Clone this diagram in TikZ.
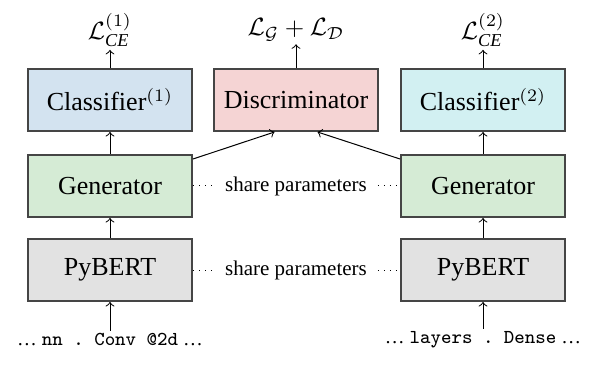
\documentclass[tikz,border=0pt]{standalone}
\usepackage{fontspec}
\setmainfont{Liberation Serif}
\usepackage{tikz}

\definecolor{clsblue}{HTML}{D3E3F0}
\definecolor{discpink}{HTML}{F5D4D4}
\definecolor{clscyan}{HTML}{D2F0F2}
\definecolor{gengreen}{HTML}{D5EBD5}
\definecolor{bertgray}{HTML}{E2E2E2}
\definecolor{boxline}{HTML}{454545}

\begin{document}
\frenchspacing
\begin{tikzpicture}[auto, x=0.4pt, y=-0.4pt,
    blk/.style={draw=boxline, line width=0.8pt, minimum width=65.6pt,
      minimum height=24.8pt, inner sep=0pt, font=\fontsize{10.4}{12}\selectfont},
    lbl/.style={inner sep=1pt, font=\fontsize{10.4}{12}\selectfont},
    share/.style={inner sep=4.2pt, font=\fontsize{8.4}{10}\selectfont},
    code/.style={inner sep=1pt, font=\fontsize{7.9}{9}\selectfont},
    arr/.style={->, line width=0.4pt}]
    \useasboundingbox (0,0) rectangle (605,365);
    \node [blk, fill=clsblue]  (c1) at (110, 100) {Classifier$^{(1)}$};
    \node [blk, fill=discpink] (d)  at (296, 100) {Discriminator};
    \node [blk, fill=clscyan]  (c2) at (483, 100) {Classifier$^{(2)}$};
    \node [blk, fill=gengreen] (g1) at (110, 186) {Generator};
    \node [blk, fill=gengreen] (g2) at (483, 186) {Generator};
    \node [blk, fill=bertgray] (b1) at (110, 270) {PyBERT};
    \node [blk, fill=bertgray] (b2) at (483, 270) {PyBERT};
    \node [lbl] (l1) at (110, 30) {$\mathcal{L}_{\mathit{CE}}^{(1)}$};
    \node [lbl] (ld) at (296, 30) {$\mathcal{L}_{\mathcal{G}} + \mathcal{L}_{\mathcal{D}}$};
    \node [lbl] (l2) at (483, 30) {$\mathcal{L}_{\mathit{CE}}^{(2)}$};
    \node [share] (s1) at (296, 186) {share parameters};
    \node [share] (s2) at (296, 270) {share parameters};
    \node [code] (x1) at (110, 340) {\ldots\ \texttt{nn . Conv @2d} \ldots};
    \node [code] (x2) at (483, 340) {\ldots\ \texttt{layers . Dense} \ldots};
    \draw [arr] (c1) to (l1);
    \draw [arr] (d)  to (ld);
    \draw [arr] (c2) to (l2);
    \draw [arr] (g1) to (c1);
    \draw [arr] (g2) to (c2);
    \draw [arr] (b1) to (g1);
    \draw [arr] (b2) to (g2);
    \draw [arr] (x1) to (b1);
    \draw [arr] (x2) to (b2);
    \draw [arr] ([yshift=-2pt]g1.north east) to ([xshift=-8.6pt]d.south);
    \draw [arr] ([yshift=-2pt]g2.north west) to ([xshift=8.6pt]d.south);
    \draw [dotted] (g1) to (s1);
    \draw [dotted] (s1) to (g2);
    \draw [dotted] (b1) to (s2);
    \draw [dotted] (s2) to (b2);
  \end{tikzpicture}
\end{document}
